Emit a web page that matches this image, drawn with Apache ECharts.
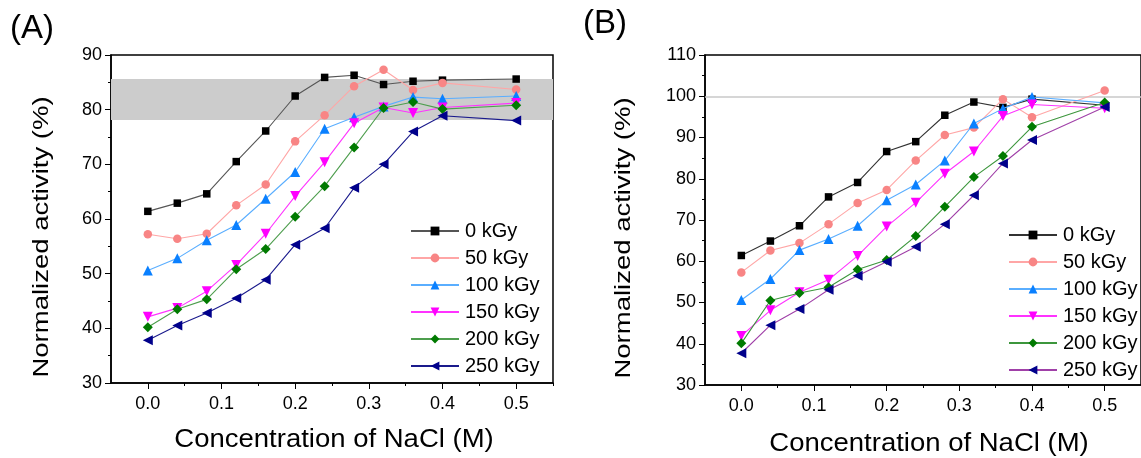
<!DOCTYPE html>
<html>
<head>
<meta charset="utf-8">
<script src="https://cdn.jsdelivr.net/npm/echarts@6/dist/echarts.min.js"></script>
<style>html,body{margin:0;padding:0;background:#fff;}#c{width:1141px;height:458px;}</style>
</head>
<body>
<div id="c"></div>
<script>
// NaCl concentration (M)
const conc = [0, 0.04, 0.08, 0.12, 0.16, 0.2, 0.24, 0.28, 0.32, 0.36, 0.4, 0.5];
const doses = ['0 kGy', '50 kGy', '100 kGy', '150 kGy', '200 kGy', '250 kGy'];
const xTickLabels = [0, 0.1, 0.2, 0.3, 0.4, 0.5];
const xMinorTicks = [0.05, 0.15, 0.25, 0.35, 0.45, 0.55];

// Panel A values (%)
const A_0   = [61.4, 62.9, 64.6, 70.5, 76.1, 82.5, 85.9, 86.3, 84.6, 85.2, 85.4, 85.6];
const A_50  = [57.2, 56.4, 57.3, 62.5, 66.3, 74.2, 79.0, 84.3, 87.3, 83.6, 84.9, 83.7];
const A_100 = [50.6, 52.8, 56.1, 58.9, 63.7, 68.6, 76.5, 78.6, 80.6, 82.3, 82.0, 82.5];
const A_150 = [42.1, 43.7, 46.8, 51.6, 57.3, 64.2, 70.4, 77.5, 80.4, 79.4, 80.4, 81.2];
const A_200 = [40.2, 43.5, 45.3, 50.8, 54.5, 60.4, 66.0, 73.1, 80.3, 81.4, 80.1, 80.8];
const A_250 = [37.8, 40.5, 42.8, 45.5, 48.9, 55.3, 58.3, 65.7, 70.0, 76.0, 78.9, 78.0];
const A_band = [78.1, 85.6];

// Panel B values (%)
const B_0   = [61.4, 64.9, 68.6, 75.6, 79.1, 86.6, 89.0, 95.4, 98.6, 97.3, 99.3, 97.8];
const B_50  = [57.3, 62.6, 64.4, 69.0, 74.1, 77.3, 84.4, 90.6, 92.4, 99.3, 94.9, 101.4];
const B_100 = [50.6, 55.7, 62.7, 65.4, 68.6, 74.8, 78.6, 84.4, 93.4, 97.0, 99.8, 98.4];
const B_150 = [41.9, 48.1, 52.5, 55.5, 61.3, 68.4, 74.2, 81.2, 86.6, 95.2, 98.0, 97.1];
const B_200 = [40.1, 50.5, 52.3, 53.7, 58.0, 60.3, 66.1, 73.2, 80.4, 85.5, 92.6, 98.5];
const B_250 = [37.7, 44.5, 48.4, 53.1, 56.5, 59.9, 63.5, 69.0, 76.0, 83.7, 89.4, 97.4];
const B_ref = 100;

const A_vals = [A_0, A_50, A_100, A_150, A_200, A_250];
const B_vals = [B_0, B_50, B_100, B_150, B_200, B_250];

const markerColors = ['#000000', '#F88585', '#0A80FF', '#FF00FF', '#007A00', '#00008B'];
const lineColorsA = ['#555555', '#FFA6A6', '#5AAEFF', '#FF33FF', '#4E9E4E', '#1A1A8C'];
const lineColorsB = ['#333333', '#FFA6A6', '#5AAEFF', '#FF33FF', '#3C963C', '#A040A8'];
const symbols = ['rect', 'circle', 'triangle', 'triangle', 'diamond', 'triangle'];
const symRot = [0, 0, 0, 180, 0, 90];
const symSizes = [7.5, 8.5, 10, 10, 10, 10];

const FONT = 'Liberation Sans, Arial, sans-serif';

function pairs(vals) { return conc.map((x, i) => [x, vals[i]]); }

function makeSeries(prefix, vals, lineColors, gridIdx) {
  return vals.map((v, k) => ({
    name: prefix + '|' + doses[k],
    type: 'line',
    xAxisIndex: gridIdx * 2,
    yAxisIndex: gridIdx,
    data: pairs(v),
    symbol: symbols[k],
    symbolRotate: symRot[k],
    symbolSize: symSizes[k],
    showAllSymbol: true,
    itemStyle: { color: markerColors[k] },
    lineStyle: { color: lineColors[k], width: 1.1 },
    z: 10 + k,
    animation: false
  }));
}

const seriesA = makeSeries('A', A_vals, lineColorsA, 0);
const seriesB = makeSeries('B', B_vals, lineColorsB, 1);
seriesA[0].markArea = {
  silent: true,
  itemStyle: { color: '#CCCCCC' },
  data: [[{ yAxis: A_band[0] }, { yAxis: A_band[1] }]]
};
seriesB[0].markLine = {
  silent: true, symbol: ['none', 'none'],
  label: { show: false },
  lineStyle: { color: '#C8C8C8', width: 1.5, type: 'solid' },
  data: [{ yAxis: B_ref }]
};

function xAxesFor(gridIndex) {
  return [{
    type: 'value', gridIndex: gridIndex, min: -0.05, max: 0.55,
    position: 'bottom',
    axisLine: { show: true, onZero: false, lineStyle: { color: '#000', width: 1.5 } },
    axisTick: { show: true, inside: false, length: 6, customValues: xTickLabels, lineStyle: { color: '#000', width: 1 } },
    axisLabel: { show: true, customValues: xTickLabels, formatter: v => Number(v).toFixed(1), fontSize: 18, fontFamily: FONT, color: '#000', margin: 12 },
    splitLine: { show: false }
  }, {
    type: 'value', gridIndex: gridIndex, min: -0.05, max: 0.55,
    position: 'bottom',
    axisLine: { show: false, onZero: false },
    axisTick: { show: true, inside: false, length: 3, customValues: xMinorTicks, lineStyle: { color: '#000', width: 1 } },
    axisLabel: { show: false },
    splitLine: { show: false }
  }];
}

function yAxisFor(gridIndex, min, max) {
  return {
    type: 'value', gridIndex: gridIndex, min: min, max: max, interval: 10,
    position: 'left',
    axisLine: { show: true, onZero: false, lineStyle: { color: '#000', width: 1.5 } },
    axisTick: { show: true, inside: false, length: 6, lineStyle: { color: '#000', width: 1 } },
    minorTick: { show: true, splitNumber: 2, length: 3, lineStyle: { color: '#000', width: 1 } },
    axisLabel: { fontSize: 18, fontFamily: FONT, color: '#000', margin: 9 },
    splitLine: { show: false }
  };
}

function legendFor(prefix, left, top) {
  return {
    data: doses.map(d => prefix + '|' + d),
    formatter: n => n.split('|')[1],
    orient: 'vertical', left: left, top: top,
    itemWidth: 48, itemHeight: 11, itemGap: 5,
    textStyle: { fontSize: 20, fontFamily: FONT, color: '#000', lineHeight: 22, padding: [0, 0, 0, 1] },
    selectedMode: false
  };
}

const option = {
  backgroundColor: '#fff',
  animation: false,
  grid: [
    { left: 111, top: 55, width: 442, height: 328, show: true, borderColor: '#000', borderWidth: 1.5, backgroundColor: 'transparent' },
    { left: 705, top: 55, width: 445, height: 330, show: true, borderColor: '#000', borderWidth: 1.5, backgroundColor: 'transparent' }
  ],
  xAxis: [...xAxesFor(0), ...xAxesFor(1)],
  yAxis: [yAxisFor(0, 30, 90), yAxisFor(1, 30, 110)],
  legend: [legendFor('A', 405, 215), legendFor('B', 1003, 219)],
  series: [...seriesA, ...seriesB],
  graphic: [
    { type: 'text', left: 10, top: 12, style: { text: '(A)', font: '33px ' + FONT, fill: '#000' } },
    { type: 'text', left: 583, top: 7, style: { text: '(B)', font: '33px ' + FONT, fill: '#000' } },
    { type: 'text', x: 42, y: 237, rotation: Math.PI / 2, scaleX: 1.25,
      style: { text: 'Normalized activity (%)', font: '22px ' + FONT, fill: '#000', align: 'center', verticalAlign: 'middle' } },
    { type: 'text', x: 624, y: 238, rotation: Math.PI / 2, scaleX: 1.25,
      style: { text: 'Normalized activity (%)', font: '22px ' + FONT, fill: '#000', align: 'center', verticalAlign: 'middle' } },
    { type: 'text', x: 334, y: 440, scaleX: 1.1,
      style: { text: 'Concentration of NaCl (M)', font: '25px ' + FONT, fill: '#000', align: 'center', verticalAlign: 'middle' } },
    { type: 'text', x: 929, y: 444, scaleX: 1.1,
      style: { text: 'Concentration of NaCl (M)', font: '25px ' + FONT, fill: '#000', align: 'center', verticalAlign: 'middle' } }
  ]
};

const chart = echarts.init(document.getElementById('c'), null, { renderer: 'canvas' });
chart.setOption(option);
</script>
</body>
</html>
